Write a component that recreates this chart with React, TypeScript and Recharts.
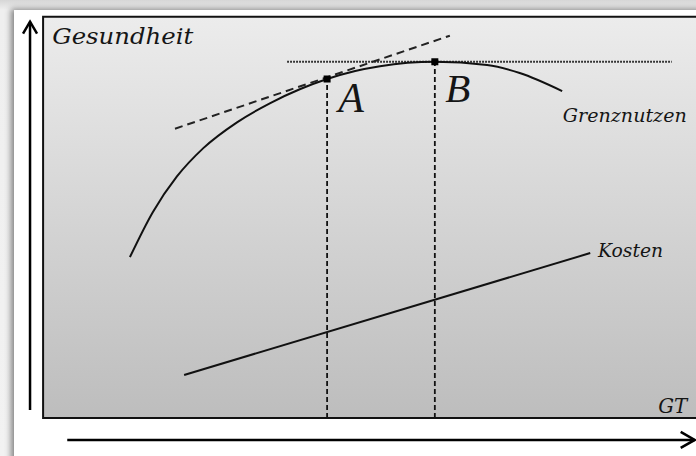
import React from 'react';
import { ComposedChart, Line, Scatter, XAxis, YAxis, ReferenceArea, ReferenceLine } from 'recharts';

// Units: the grey box spans GT 0..100 (x) and Gesundheit 0..100 (y)
const grenzX = [13.3, 16.8, 20.5, 24.5, 29.7, 34.8, 39.4, 43.5, 47.8, 51.6, 60.0, 68.0, 73.0, 79.5];
const grenzY = [40.1, 51.3, 60.2, 67.2, 73.7, 78.5, 82.0, 84.5, 86.5, 87.7, 88.8, 88.0, 86.0, 81.5];

const kostenX = [21.6, 83.8];
const kostenY = [10.7, 41.1];

const tangentX = [20.2, 62.3];
const tangentY = [72.1, 95.3];

const pointNames = ['A', 'B'];
const pointX = [43.5, 60.0];
const pointY = [84.5, 88.8];

const dottedX = [37.4, 96.3];
const maxLevel = 88.8;

const yArrowX = -2.0;
const yArrowY = [2.0, 98.8];
const xArrowY = -5.5;
const xArrowX = [3.7, 99.8];

const labelTexts = ['Gesundheit', 'A', 'B', 'Grenznutzen', 'Kosten', 'GT'];
const labelX = [1.4, 45.2, 61.6, 79.6, 85.0, 94.2];
const labelY = [93.3, 76.3, 78.8, 73.9, 40.1, 1.2];

const zip = (xs: number[], ys: number[]) => xs.map((x, i) => ({ x, y: ys[i] }));

const grenzData = zip(grenzX, grenzY);
const kostenData = zip(kostenX, kostenY);
const tangentData = zip(tangentX, tangentY);
const pointsData = pointX.map((x, i) => ({ x, y: pointY[i], name: pointNames[i] }));
const dottedData = dottedX.map((x) => ({ x, y: maxLevel }));
const vertA = [{ x: pointX[0], y: 0 }, { x: pointX[0], y: pointY[0] }];
const vertB = [{ x: pointX[1], y: 0 }, { x: pointX[1], y: pointY[1] }];
const arrowHeads = [
  { x: yArrowX, y: yArrowY[1], dir: 'up' },
  { x: xArrowX[1], y: xArrowY, dir: 'right' },
];
const labelData = labelTexts.map((t, i) => ({ x: labelX[i], y: labelY[i], text: t }));

const labelStyle: Record<string, { size: number; family: string; len?: number }> = {
  Gesundheit: { size: 23, family: '"DejaVu Serif", serif', len: 141 },
  A: { size: 42, family: '"Liberation Serif", serif' },
  B: { size: 41, family: '"Liberation Serif", serif' },
  Grenznutzen: { size: 19, family: '"DejaVu Serif", serif', len: 124 },
  Kosten: { size: 18, family: '"DejaVu Serif", serif', len: 65 },
  GT: { size: 21, family: '"DejaVu Serif", serif', len: 29 },
};

const arrowShape = (props: any) => {
  const { cx, cy, payload } = props;
  const pts = payload.dir === 'up'
    ? `${cx - 7},${cy + 12} ${cx},${cy} ${cx + 7},${cy + 12}`
    : `${cx - 14},${cy - 8} ${cx},${cy} ${cx - 14},${cy + 8}`;
  return <polyline points={pts} fill="none" stroke="#000" strokeWidth={2.5} />;
};

const squareShape = (props: any) => {
  const { cx, cy } = props;
  return <rect x={cx - 3.5} y={cy - 3.5} width={7} height={7} fill="#000" />;
};

const textShape = (props: any) => {
  const { cx, cy, payload } = props;
  const st = labelStyle[payload.text];
  return (
    <text x={cx} y={cy} fontFamily={st.family} fontStyle="italic" fontSize={st.size} fill="#151515"
      textLength={st.len} lengthAdjust={st.len ? 'spacingAndGlyphs' : undefined}>
      {payload.text}
    </text>
  );
};

export default function App() {
  return (
    <div style={{ position: 'absolute', left: 0, top: 0, width: 696, height: 456, overflow: 'hidden',
      background: 'linear-gradient(180deg, #d6d6d6 0px, #efefef 10px, #f2f2f2 100%)' }}>
      <div style={{ position: 'absolute', left: 14, top: 10, width: 700, height: 460, background: '#fff',
        boxShadow: '-3px -1px 6px rgba(0,0,0,0.45)' }} />
      <div style={{ position: 'absolute', left: 0, top: 0 }}>
        <ComposedChart width={696} height={456} margin={{ top: 0, right: 0, bottom: 0, left: 0 }}>
          <defs>
            <linearGradient id="boxGrad" x1="0" y1="0" x2="0" y2="1">
              <stop offset="0%" stopColor="#ececec" />
              <stop offset="100%" stopColor="#bdbdbd" />
            </linearGradient>
          </defs>
          <XAxis hide type="number" dataKey="x" domain={[-6.6, 100]} allowDataOverflow />
          <YAxis hide type="number" dataKey="y" domain={[-9.5, 104.2]} allowDataOverflow />
          <ReferenceArea x1={0} x2={101} y1={0} y2={100} ifOverflow="visible"
            fill="url(#boxGrad)" fillOpacity={1} stroke="#111" strokeWidth={2} />
          <ReferenceLine segment={[{ x: yArrowX, y: yArrowY[0] }, { x: yArrowX, y: yArrowY[1] }]}
            stroke="#000" strokeWidth={2.5} ifOverflow="visible" />
          <ReferenceLine segment={[{ x: xArrowX[0], y: xArrowY }, { x: xArrowX[1], y: xArrowY }]}
            stroke="#000" strokeWidth={2.5} ifOverflow="visible" />
          <Line data={dottedData} dataKey="y" type="linear" stroke="#000" strokeWidth={1.8}
            strokeDasharray="1.5 1.5" dot={false} isAnimationActive={false} />
          <Line data={vertA} dataKey="y" type="linear" stroke="#111" strokeWidth={1.8}
            strokeDasharray="5 3" dot={false} isAnimationActive={false} />
          <Line data={vertB} dataKey="y" type="linear" stroke="#111" strokeWidth={1.8}
            strokeDasharray="5 3" dot={false} isAnimationActive={false} />
          <Line data={grenzData} dataKey="y" type="monotone" stroke="#111" strokeWidth={2}
            dot={false} isAnimationActive={false} />
          <Line data={tangentData} dataKey="y" type="linear" stroke="#222" strokeWidth={2}
            strokeDasharray="8 5" dot={false} isAnimationActive={false} />
          <Line data={kostenData} dataKey="y" type="linear" stroke="#111" strokeWidth={2}
            dot={false} isAnimationActive={false} />
          <Scatter data={arrowHeads} dataKey="y" shape={arrowShape} isAnimationActive={false} />
          <Scatter data={pointsData} dataKey="y" shape={squareShape} isAnimationActive={false} />
          <Scatter data={labelData} dataKey="y" shape={textShape} isAnimationActive={false} />
        </ComposedChart>
      </div>
    </div>
  );
}
